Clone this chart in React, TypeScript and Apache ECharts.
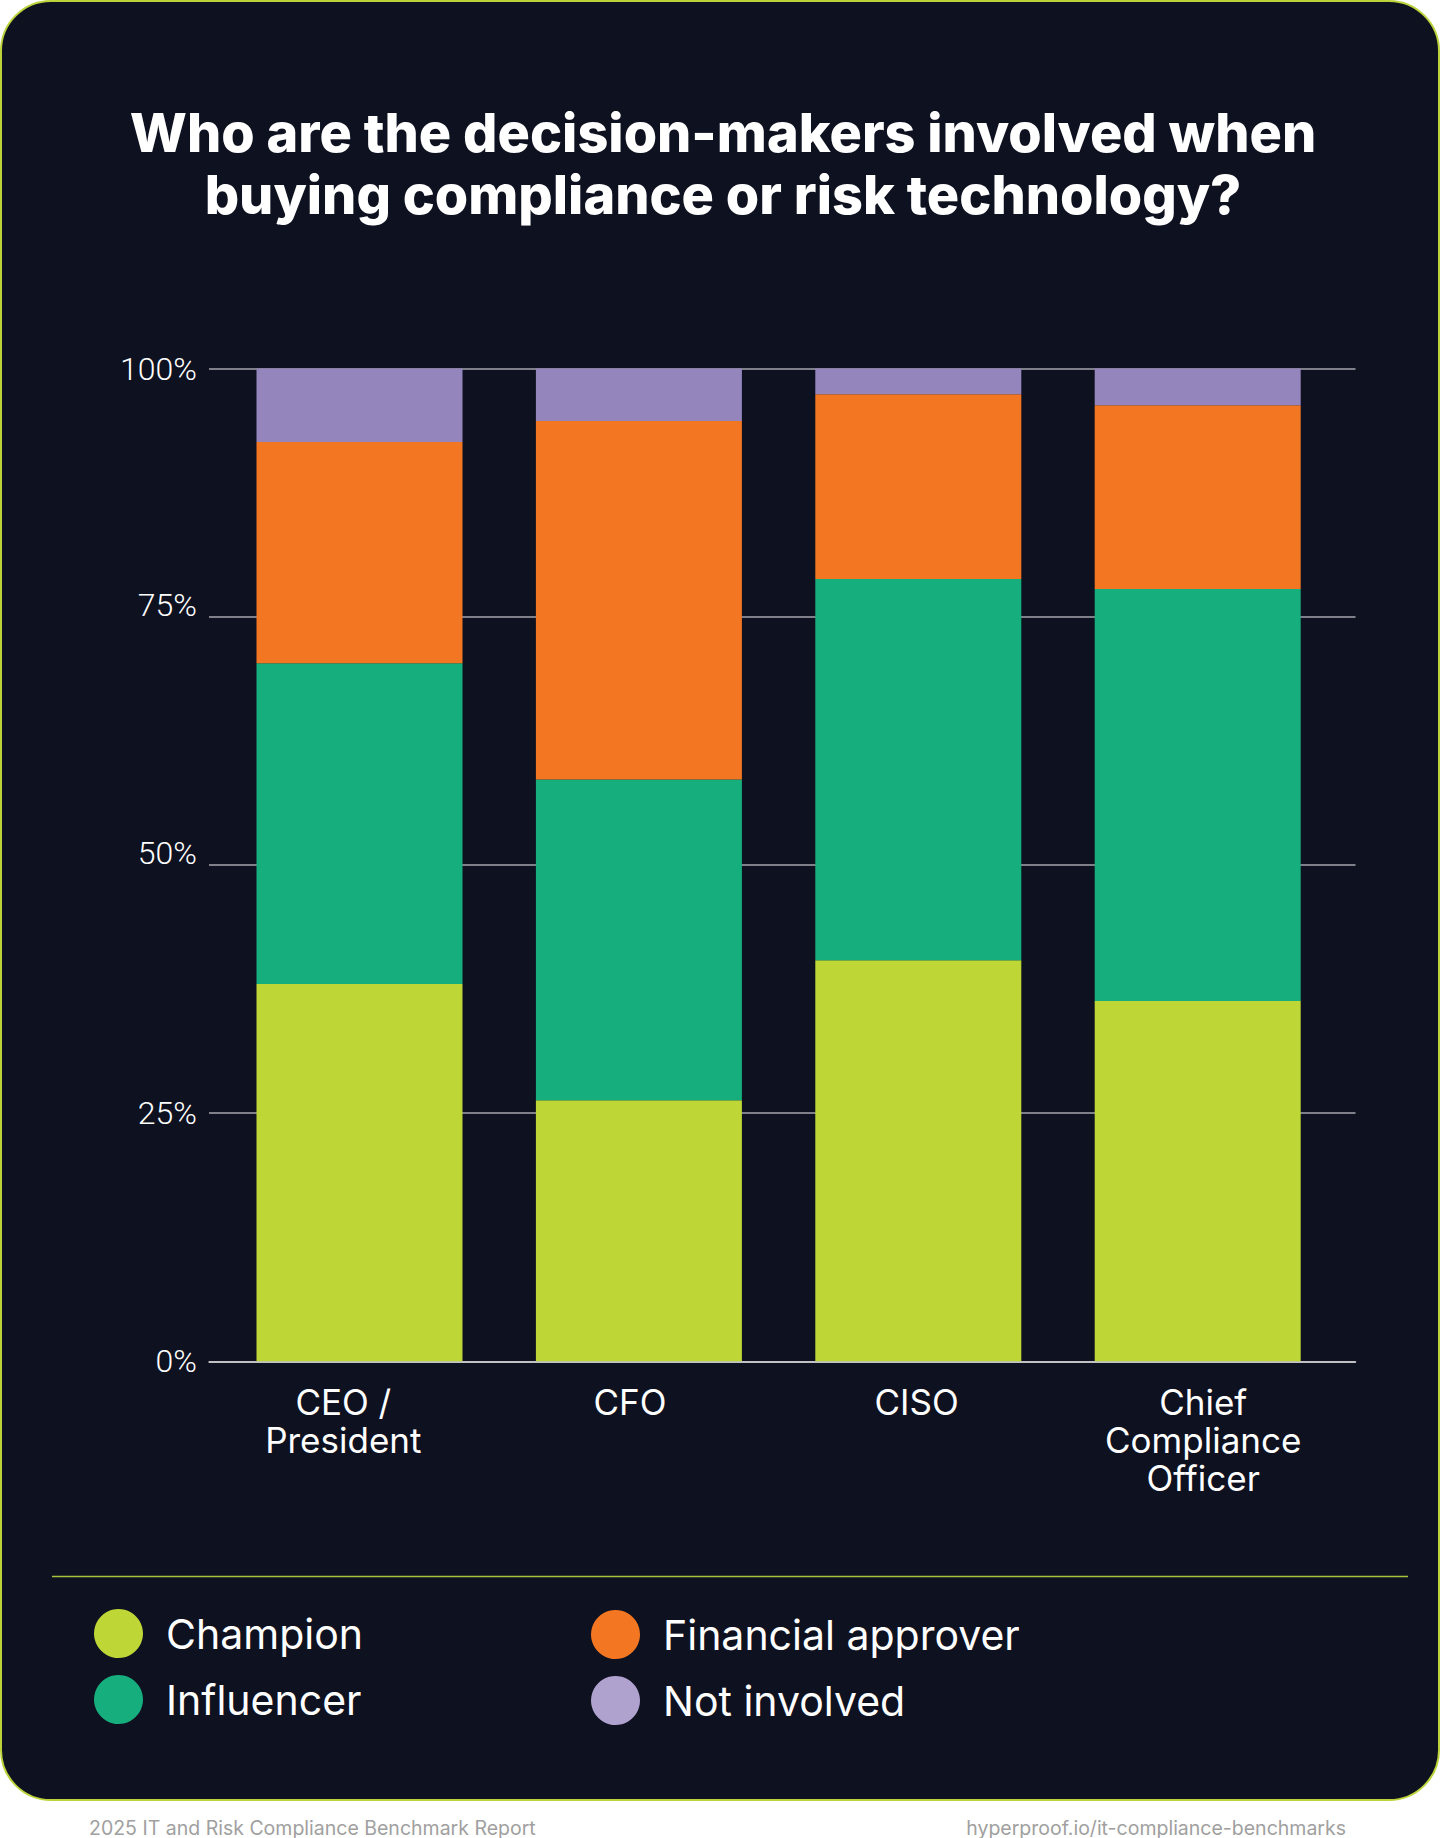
import React, { useEffect, useRef } from "react";
import * as echarts from "echarts";

const categories = ["CEO /\nPresident", "CFO", "CISO", "Chief\nCompliance\nOfficer"];
const champion = [38.0, 26.3, 40.4, 36.3];
const influencer = [32.3, 32.3, 38.4, 41.5];
const financialApprover = [22.3, 36.1, 18.6, 18.5];
const notInvolved = [7.4, 5.3, 2.6, 3.7];
const seriesNames = ["Champion", "Influencer", "Financial approver", "Not involved"];
const seriesColors = ["#bed736", "#17ae7e", "#f37722", "#9485bd"];
const legendColors = ["#bed736", "#17ae7e", "#f37722", "#b0a2cf"];
const raisedTicks = [50, 75];

const TITLE = "Who are the decision-makers involved when\nbuying compliance or risk technology?";
const FOOT_LEFT = "2025 IT and Risk Compliance Benchmark Report";
const FOOT_RIGHT = "hyperproof.io/it-compliance-benchmarks";

export default function App() {
  const ref = useRef<HTMLDivElement>(null);
  useEffect(() => {
    if (!ref.current) return;
    const chart = echarts.init(ref.current, null, { renderer: "svg" });
    const values = [champion, influencer, financialApprover, notInvolved];
    const legendText = { color: "#ffffff", fontSize: 41, fontFamily: "Inter", padding: [0, 0, 0, 18] };
    const option: any = {
      animation: false,
      backgroundColor: "#ffffff",
      graphic: [
        {
          type: "rect",
          z: -100,
          silent: true,
          shape: { x: 1, y: 1, width: 1438, height: 1799, r: 50 },
          style: { fill: "#0e1120", stroke: "#bcd43a", lineWidth: 2 },
        },
        {
          type: "line",
          z: -50,
          silent: true,
          shape: { x1: 52, y1: 1576.5, x2: 1408, y2: 1576.5 },
          style: { stroke: "#a9c23c", lineWidth: 1.5 },
        },
        {
          type: "text",
          x: 723,
          y: 101,
          style: {
            text: TITLE,
            fill: "#ffffff",
            fontSize: 54,
            fontWeight: 800,
            fontFamily: "Inter",
            lineHeight: 62,
            textAlign: "center",
            align: "center",
            textVerticalAlign: "top",
            verticalAlign: "top",
          },
        },
        {
          type: "text",
          x: 89,
          y: 1827.5,
          style: {
            text: FOOT_LEFT,
            fill: "#a0a0a0",
            fontSize: 19.5,
            fontFamily: "Inter",
            textAlign: "left",
            align: "left",
            textVerticalAlign: "middle",
            verticalAlign: "middle",
          },
        },
        {
          type: "text",
          x: 1346,
          y: 1827.5,
          style: {
            text: FOOT_RIGHT,
            fill: "#a0a0a0",
            fontSize: 19.5,
            fontFamily: "Inter",
            textAlign: "right",
            align: "right",
            textVerticalAlign: "middle",
            verticalAlign: "middle",
          },
        },
      ],
      legend: [
        {
          left: 94,
          top: 1609,
          padding: 0,
          orient: "vertical",
          itemWidth: 49,
          itemHeight: 49,
          itemGap: 17,
          icon: "circle",
          data: [0, 1].map((i) => ({ name: seriesNames[i], itemStyle: { color: legendColors[i] } })),
          textStyle: legendText,
        },
        {
          left: 591,
          top: 1610,
          padding: 0,
          orient: "vertical",
          itemWidth: 49,
          itemHeight: 49,
          itemGap: 17,
          icon: "circle",
          data: [2, 3].map((i) => ({ name: seriesNames[i], itemStyle: { color: legendColors[i] } })),
          textStyle: legendText,
        },
      ],
      grid: [
        { left: 209, right: 84.5, top: 368.5, bottom: 476.7 },
        { left: 219.8, right: 102.6, top: 368.5, bottom: 476.7 },
      ],
      xAxis: [
        {
          type: "category",
          gridIndex: 0,
          data: categories,
          axisLine: { show: true, lineStyle: { color: "#d8d8d8", width: 1.5 } },
          axisTick: { show: false },
          axisLabel: {
            color: "#ffffff",
            fontSize: 35,
            fontFamily: "Inter",
            lineHeight: 38,
            margin: 22,
            padding: [0, 18, 0, 0],
            interval: 0,
          },
        },
        {
          type: "category",
          gridIndex: 1,
          data: categories,
          show: false,
        },
      ],
      yAxis: [
        {
          type: "value",
          gridIndex: 0,
          min: 0,
          max: 100,
          interval: 25,
          axisLine: { show: false },
          axisTick: { show: false },
          splitLine: { show: true, lineStyle: { color: "#a4a4ac", width: 1.5 } },
          axisLabel: {
            margin: 12,
            formatter: (v: number) => (raisedTicks.includes(v) ? `{hi|${v}%}` : `{n|${v}%}`),
            rich: {
              n: { color: "#ffffff", fontSize: 32, fontWeight: 300, fontFamily: "Roboto" },
              hi: { color: "#ffffff", fontSize: 32, fontWeight: 300, fontFamily: "Roboto", padding: [0, 0, 24, 0] },
            },
          },
        },
        {
          type: "value",
          gridIndex: 1,
          min: 0,
          max: 100,
          show: false,
          splitLine: { show: false },
        },
      ],
      series: seriesNames.map((name, i) => ({
        name,
        type: "bar",
        stack: "total",
        xAxisIndex: 1,
        yAxisIndex: 1,
        barWidth: 206,
        data: values[i],
        itemStyle: { color: seriesColors[i] },
      })),
    };
    chart.setOption(option);
    return () => chart.dispose();
  }, []);
  return (
    <div
      ref={ref}
      style={{ position: "absolute", left: 0, top: 0, width: 1440, height: 1838 }}
    />
  );
}
